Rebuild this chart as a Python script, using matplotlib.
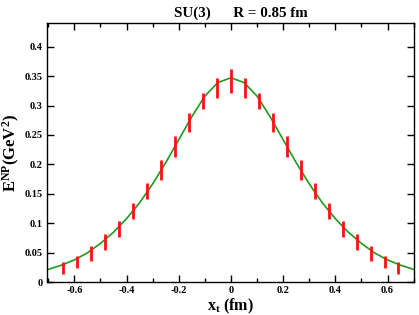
import matplotlib
matplotlib.use("Agg")
import matplotlib.pyplot as plt
from matplotlib.ticker import MultipleLocator, FixedLocator

plt.rcParams['font.family'] = ['Liberation Serif', 'DejaVu Serif']
plt.rcParams['font.weight'] = 'bold'
plt.rcParams['mathtext.fontset'] = 'custom'
plt.rcParams['mathtext.rm'] = 'Liberation Serif:bold'
plt.rcParams['mathtext.bf'] = 'Liberation Serif:bold'
plt.rcParams['mathtext.it'] = 'Liberation Serif:bold'

# data points (x_t in fm, E^NP in GeV^2, error)
x_pts = [-0.642, -0.589, -0.535, -0.482, -0.428, -0.375, -0.321, -0.268, -0.214,
         -0.161, -0.107, -0.0535, 0.0, 0.0535, 0.107, 0.161, 0.214, 0.268, 0.321,
         0.375, 0.428, 0.482, 0.535, 0.589, 0.642]
y_pts = [0.0235, 0.035, 0.049, 0.068, 0.091, 0.1206, 0.1544, 0.190, 0.2306,
         0.2717, 0.3075, 0.3296, 0.3415, 0.3296, 0.3075, 0.2717, 0.2306, 0.190, 0.1544,
         0.1206, 0.091, 0.068, 0.049, 0.035, 0.0235]
y_err = [0.0102, 0.010, 0.0128, 0.0133, 0.0136, 0.0133, 0.0136, 0.017, 0.0173,
         0.0164, 0.013, 0.0176, 0.0198, 0.0176, 0.013, 0.0164, 0.0173, 0.017, 0.0136,
         0.0133, 0.0136, 0.0133, 0.0128, 0.010, 0.0102]

# fit curve
x_fit = [-0.70, -0.65, -0.60, -0.55, -0.50, -0.45, -0.40, -0.35, -0.30, -0.25, -0.20,
         -0.15, -0.10, -0.05, 0.0, 0.05, 0.10, 0.15, 0.20, 0.25, 0.30, 0.35, 0.40,
         0.45, 0.50, 0.55, 0.60, 0.65, 0.70]
y_fit = [0.022, 0.029, 0.038, 0.050, 0.066, 0.085, 0.108, 0.135, 0.167, 0.203, 0.242,
         0.281, 0.316, 0.339, 0.347, 0.339, 0.316, 0.281, 0.242, 0.203, 0.167, 0.135, 0.108,
         0.085, 0.066, 0.050, 0.038, 0.029, 0.022]

x_ticks = [-0.6, -0.4, -0.2, 0, 0.2, 0.4, 0.6]
x_tick_labels = ['-0.6', '-0.4', '-0.2', '0', '0.2', '0.4', '0.6']
y_ticks = [0, 0.05, 0.1, 0.15, 0.2, 0.25, 0.3, 0.35, 0.4]
y_tick_labels = ['0', '0.05', '0.1', '0.15', '0.2', '0.25', '0.3', '0.35', '0.4']

fig = plt.figure(figsize=(4.19, 3.15), dpi=100)
ax = fig.add_axes([0.1115, 0.1038, 0.8775, 0.8232])

ax.plot(x_fit, y_fit, color='#1e9a1e', lw=1.2, zorder=2)
ax.errorbar(x_pts, y_pts, yerr=y_err, fmt='none', ecolor='#ff1010', elinewidth=2.0,
            capsize=0, zorder=3)

ax.set_xlim(-0.706, 0.703)
ax.set_ylim(0, 0.44)
ax.xaxis.set_major_locator(FixedLocator(x_ticks))
ax.set_xticklabels(x_tick_labels)
ax.xaxis.set_minor_locator(MultipleLocator(0.1))
ax.yaxis.set_major_locator(FixedLocator(y_ticks))
ax.set_yticklabels(y_tick_labels)

ax.tick_params(which='both', direction='in', top=True, right=True, width=1.0,
               labelsize=7.5, pad=3)
ax.tick_params(which='major', length=5)
ax.tick_params(which='minor', length=3)
for lab in ax.get_xticklabels() + ax.get_yticklabels():
    lab.set_fontweight('bold')
for s in ax.spines.values():
    s.set_linewidth(1.0)

ax.set_xlabel(r'$\mathbf{x_t}$ (fm)', fontsize=11.5, fontweight='bold', labelpad=1)
ax.set_ylabel(r'$\mathbf{E^{NP}(GeV^{2})}$', fontsize=12, fontweight='bold', labelpad=2)
fig.text(0.575, 0.957, 'SU(3)      R = 0.85 fm', ha='center', va='center',
         fontsize=10.8, fontweight='bold')

fig.savefig('out.png', dpi=100)
